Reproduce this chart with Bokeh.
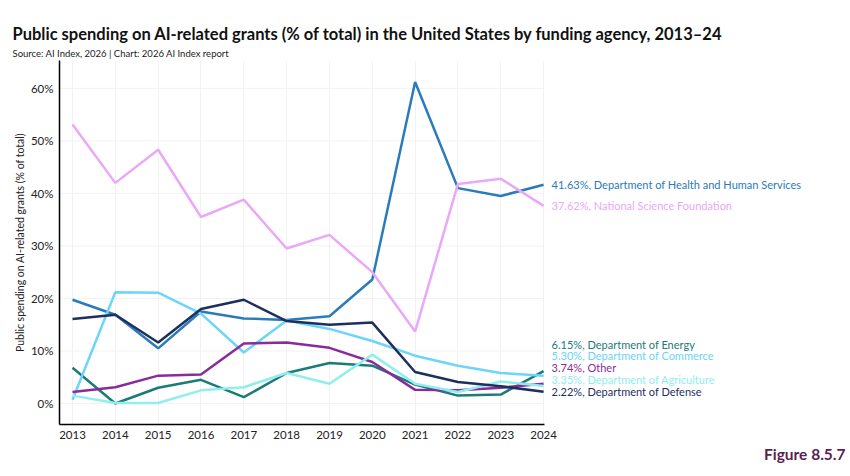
from bokeh.plotting import figure
from bokeh.models import FixedTicker, PrintfTickFormatter, Label, Range1d, Title
from bokeh.embed import file_html
from bokeh.resources import INLINE

years = list(range(2013, 2025))
yticks = [0, 10, 20, 30, 40, 50, 60]
hhs = [19.75, 16.9, 10.5, 17.5, 16.2, 15.9, 16.6, 23.6, 61.2, 41.0, 39.5, 41.63]
nsf = [53.1, 42.0, 48.3, 35.5, 38.8, 29.5, 32.1, 25.0, 13.7, 41.8, 42.8, 37.62]
defense = [16.1, 16.9, 11.6, 18.0, 19.75, 15.7, 15.0, 15.4, 6.0, 4.1, 3.3, 2.22]
commerce = [0.7, 21.2, 21.1, 17.1, 9.7, 15.8, 14.2, 11.9, 9.1, 7.2, 5.8, 5.30]
other = [2.2, 3.1, 5.3, 5.5, 11.4, 11.6, 10.6, 7.9, 2.6, 2.5, 3.0, 3.74]
energy = [6.8, 0.0, 3.0, 4.5, 1.2, 5.8, 7.7, 7.2, 3.6, 1.5, 1.7, 6.15]
agriculture = [1.5, 0.1, 0.1, 2.5, 3.1, 5.8, 3.75, 9.3, 3.75, 2.2, 4.2, 3.35]

series = [
    ("Department of Health and Human Services", hhs, "#2a7bba", 0),
    ("National Science Foundation", nsf, "#e9a8f8", 0),
    ("Department of Energy", energy, "#1b7b78", 27),
    ("Department of Commerce", commerce, "#6dd4fa", 20),
    ("Other", other, "#8a2b9b", 16),
    ("Department of Agriculture", agriculture, "#90eeee", 6),
    ("Department of Defense", defense, "#1d2f5f", 0),
]

x0, x1 = 2012.696, 2024.02
y0, y1 = -4, 65.3

p = figure(width=850, height=476, output_backend="svg", toolbar_location=None,
           x_range=Range1d(x0, 2031.05), y_range=Range1d(y0, y1),
           min_border_left=59, min_border_right=5, min_border_top=60, min_border_bottom=52)
p.outline_line_color = None
p.background_fill_color = "white"
p.border_fill_color = "white"

font = "Lato"

# horizontal grid limited to the data area
p.ygrid.grid_line_color = None
p.segment(x0=[x0] * len(yticks), x1=[x1] * len(yticks), y0=yticks, y1=yticks,
          line_color="#f2f2f2", line_width=1)
p.xgrid.ticker = FixedTicker(ticks=years)
p.xgrid.grid_line_color = "#f2f2f2"
p.xgrid.bounds = (x0, x1)

for name, vals, color, off in series:
    p.line(years, vals, line_color=color, line_width=2.5)

for name, vals, color, off in series:
    v = vals[-1]
    p.add_layout(Label(x=years[-1], y=v, x_offset=8, y_offset=off,
                       text=f"{v:.2f}%, {name}", text_color=color,
                       text_font=font, text_font_size="11px", text_baseline="middle"))

p.xaxis.ticker = FixedTicker(ticks=years)
p.xaxis.bounds = (x0, x1)
p.yaxis.ticker = FixedTicker(ticks=yticks)
p.yaxis.formatter = PrintfTickFormatter(format="%d%%")
for ax in (p.xaxis, p.yaxis):
    ax.major_tick_line_color = None
    ax.minor_tick_line_color = None
    ax.axis_line_color = "black"
    ax.axis_line_width = 1.5
    ax.major_label_text_font = font
    ax.major_label_text_font_size = "11.5px"
    ax.major_label_text_color = "#222222"
    ax.major_label_standoff = 0
p.yaxis.axis_label = "Public spending on AI-related grants (% of total)"
p.yaxis.axis_label_text_font = font
p.yaxis.axis_label_text_font_size = "10.5px"
p.yaxis.axis_label_text_font_style = "normal"
p.yaxis.axis_label_text_color = "#222222"
p.yaxis.axis_label_standoff = 2

p.add_layout(Title(text="Source: AI Index, 2026 | Chart: 2026 AI Index report",
                   text_font=font, text_font_size="9.5px", text_font_style="normal",
                   text_color="#222222", offset=-47, standoff=4), "above")
p.add_layout(Title(text="Public spending on AI-related grants (% of total) in the United States by funding agency, 2013–24",
                   text_font=font, text_font_size="16.5px", text_font_style="bold",
                   text_color="#111111", offset=-47, standoff=0), "above")
p.add_layout(Title(text="Figure 8.5.7", align="right", text_font=font, text_font_size="15.5px",
                   text_font_style="bold", text_color="#5a1f50", standoff=3), "below")

open("out.html", "w").write(file_html(p, INLINE))
